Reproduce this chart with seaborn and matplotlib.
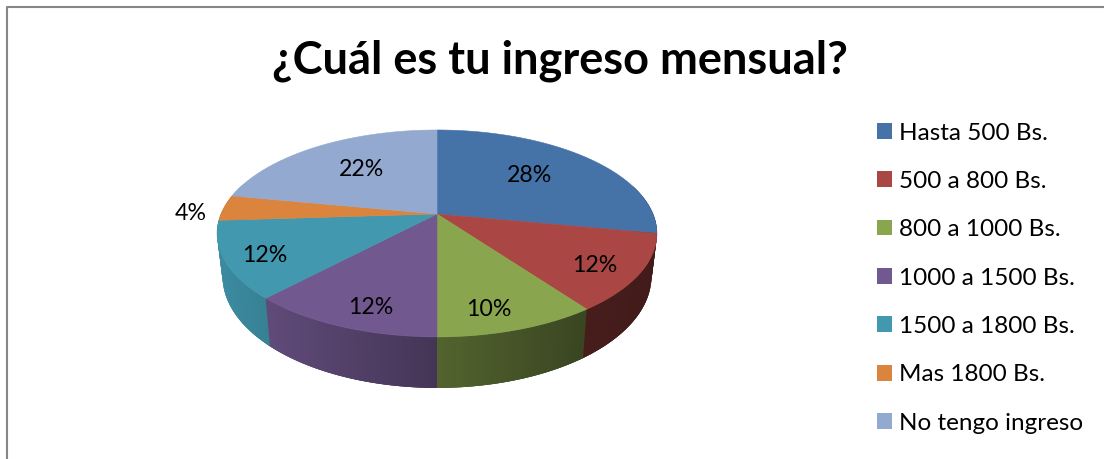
import numpy as np
import matplotlib
matplotlib.use('Agg')
import matplotlib.pyplot as plt
from matplotlib.patches import Patch
from matplotlib.colors import to_rgb
import seaborn as sns

categories = ['Hasta 500 Bs.', '500 a 800 Bs.', '800 a 1000 Bs.', '1000 a 1500 Bs.',
              '1500 a 1800 Bs.', 'Mas 1800 Bs.', 'No tengo ingreso']
values = [28, 12, 10, 12, 12, 4, 22]
colors = ['#4572A7', '#AA4643', '#89A54E', '#71588F', '#4198AF', '#DB843D', '#93A9CF']
title = '¿Cuál es tu ingreso mensual?'

# where excel put the percent labels, in pixels
label_x = [530, 595, 489, 371, 265, 191, 361]
label_y = [175, 265, 310, 307, 255, 213, 169]

sns.set_theme(style='white')
plt.rcParams['font.family'] = ['Lato', 'DejaVu Sans']
palette = sns.color_palette(colors)

fig = plt.figure(figsize=(11.04, 4.59), dpi=100)
ax = fig.add_axes([0, 0, 1, 1])
ax.set_xlim(0, 1104)
ax.set_ylim(459, 0)
ax.axis('off')


# perspective projection of the pie disc, apex at (437, 214)
def project(theta, r=1.0):
    u = r * np.sin(theta)
    v = r * np.cos(theta)
    w = 1 + 0.188 * v
    return 437 + 216 * u / w, 214 - 99.8 * v / w


def project_bottom(theta):
    x, y = project(theta)
    w = 1 + 0.188 * np.cos(theta)
    return 437 + (x - 437) * 0.975, y + 41.4 / w


def shade(x):
    # side wall gets darker from left to right
    return np.interp(x, [217, 271, 437, 583, 657], [0.92, 0.84, 0.6, 0.42, 0.38])


edges = np.concatenate([[0], np.cumsum(values)]) / np.sum(values) * 2 * np.pi

# side walls first, the top covers whatever is at the back
step = 0.01
for i in range(len(values)):
    thetas = np.arange(edges[i], edges[i + 1], step)
    base = np.array(to_rgb(palette[i]))
    for a in thetas:
        if np.cos(a) > 0.3:
            continue
        # strips overlap so no seams show between them
        b = a + 3 * step
        x1, y1 = project(np.array([a, b]))
        x2, y2 = project_bottom(np.array([b, a]))
        xs = np.concatenate([x1, x2])
        ys = np.concatenate([y1, y2])
        c = base * shade(xs.mean())
        ax.fill(xs, ys, color=c, lw=0, zorder=2)

# top of the pie
for i in range(len(values)):
    thetas = np.linspace(edges[i], edges[i + 1], 80)
    x, y = project(thetas)
    xs = np.concatenate([[437], x])
    ys = np.concatenate([[214], y])
    ax.fill(xs, ys, color=palette[i], lw=0.4, zorder=3)

for i in range(len(values)):
    ax.text(label_x[i], label_y[i], '{}%'.format(values[i]), ha='center', va='center',
            fontsize=16.7, color='black', zorder=5)

ax.text(559.5, 61, title, ha='center', va='center', fontsize=32.5, fontweight='bold', color='black')

# chart border, the image is cut off before the bottom and right edges
ax.plot([7, 7, 1104], [459, 6.5, 6.5], color='#868686', lw=1.5, zorder=1)

handles = [Patch(facecolor=palette[i], edgecolor='none') for i in range(len(values))]
ax.legend(handles, categories, loc='upper left', bbox_to_anchor=(877, 122.5),
          bbox_transform=ax.transData, frameon=False, fontsize=17.5, borderpad=0, borderaxespad=0,
          handlelength=0.617, handleheight=0.617, handletextpad=0.29, labelspacing=1.125,
          labelcolor='black')

fig.savefig('out.png', dpi=100)
